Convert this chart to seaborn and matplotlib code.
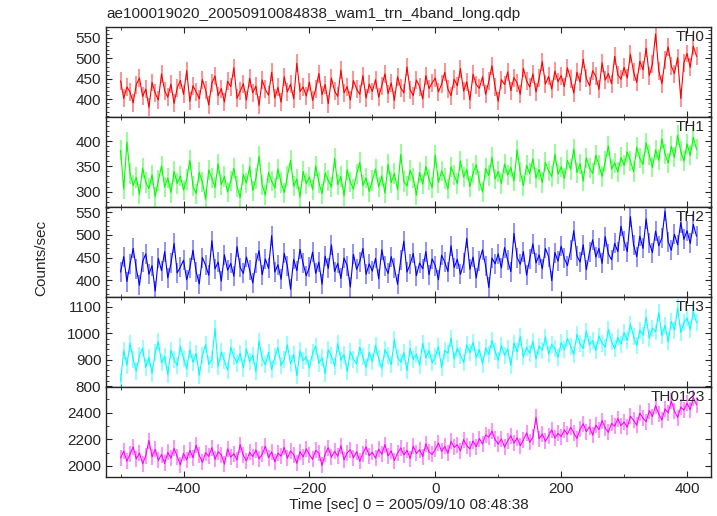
import numpy as np
import pandas as pd
import matplotlib
matplotlib.use("Agg")
import matplotlib.pyplot as plt
import seaborn as sns
from matplotlib.ticker import MultipleLocator

# time bins (sec from 2005/09/10 08:48:38), 5 s binning
t_start = -500
t_step = 5

th0 = [445, 402, 430, 418, 391, 436, 452, 407, 425, 380, 441, 415, 398, 462, 421, 405, 437, 390, 428, 446,
       412, 470, 395, 433, 418, 401, 448, 423, 386, 439, 457, 409, 426, 393, 444, 431, 477, 402, 420, 438,
       398, 451, 416, 432, 385, 447, 424, 410, 466, 403, 429, 393, 455, 418, 437, 401, 488, 419, 430, 408,
       442, 397, 425, 463, 411, 436, 389, 452, 420, 407, 471, 416, 431, 398, 446, 425, 412, 458, 403, 437,
       419, 448, 405, 433, 462, 414, 440, 397, 455, 428, 416, 479, 423, 409, 447, 431, 401, 458, 426, 440,
       452, 418, 437, 466, 425, 409, 449, 433, 475, 420, 443, 398, 461, 436, 427, 455, 412, 444, 482, 430,
       395, 448, 436, 467, 421, 453, 440, 412, 476, 445, 430, 462, 418, 451, 492, 437, 456, 425, 469, 443,
       458, 431, 477, 449, 415, 466, 442, 498, 451, 433, 470, 456, 424, 489, 447, 463, 438, 505, 460, 449,
       478, 452, 510, 467, 441, 493, 472, 525, 458, 486, 560, 470, 438, 495, 528, 481, 463, 502, 402, 489,
       512, 478, 530, 505]

th1 = [382, 305, 398, 336, 312, 328, 295, 347, 318, 306, 333, 290, 322, 351, 309, 327, 298, 340, 316, 331,
       303, 324, 362, 311, 296, 338, 319, 285, 343, 327, 308, 355, 314, 330, 299, 321, 346, 310, 288, 334,
       317, 349, 302, 326, 370, 313, 293, 338, 321, 307, 345, 318, 298, 331, 362, 311, 325, 289, 340, 316,
       329, 304, 351, 318, 296, 337, 322, 309, 366, 314, 330, 292, 343, 319, 305, 335, 358, 312, 327, 300,
       322, 345, 309, 331, 297, 354, 318, 336, 304, 374, 320, 311, 342, 327, 293, 338, 315, 350, 324, 308,
       372, 318, 341, 326, 305, 349, 333, 316, 361, 329, 344, 310, 337, 353, 321, 299, 346, 332, 368, 325,
       340, 316, 355, 333, 348, 321, 383, 339, 312, 352, 336, 365, 327, 344, 318, 358, 341, 330, 374, 335,
       349, 326, 362, 344, 385, 338, 355, 321, 367, 347, 336, 372, 353, 330, 360, 391, 345, 357, 339, 368,
       352, 379, 361, 340, 388, 366, 354, 397, 372, 348, 383, 362, 405, 375, 357, 390, 368, 412, 380, 361,
       395, 372, 408, 384]

th2 = [418, 452, 397, 436, 470, 425, 389, 441, 458, 413, 432, 376, 448, 421, 463, 405, 437, 481, 416, 429,
       444, 401, 427, 466, 419, 392, 450, 433, 411, 487, 425, 440, 398, 456, 422, 437, 409, 474, 428, 415,
       451, 423, 394, 438, 465, 412, 447, 426, 498, 418, 434, 402, 459, 431, 380, 446, 421, 468, 437, 410,
       429, 462, 415, 440, 391, 453, 426, 478, 419, 437, 404, 449, 432, 385, 457, 424, 441, 470, 413, 436,
       420, 448, 403, 467, 431, 415, 452, 427, 391, 444, 486, 418, 435, 459, 410, 438, 425, 463, 412, 447,
       432, 401, 455, 440, 419, 476, 428, 446, 413, 437, 492, 424, 451, 405, 443, 467, 431, 384, 449, 436,
       458, 427, 472, 444, 419, 503, 450, 435, 463, 411, 447, 480, 438, 456, 425, 470, 452, 399, 461, 442,
       475, 448, 432, 466, 509, 454, 440, 478, 423, 462, 489, 451, 470, 437, 496, 458, 445, 481, 463, 519,
       486, 463, 540, 478, 452, 497, 470, 535, 482, 461, 508, 476, 493, 552, 485, 466, 501, 478, 527, 490,
       509, 481, 523, 497]

th3 = [820, 935, 880, 962, 901, 857, 918, 944, 872, 909, 850, 927, 968, 889, 913, 845, 936, 902, 878, 951,
       905, 866, 938, 891, 924, 842, 915, 958, 883, 901, 1018, 874, 930, 897, 861, 947, 912, 888, 925, 869,
       941, 893, 918, 855, 970, 904, 882, 929, 863, 911, 946, 878, 902, 957, 885, 920, 840, 934, 897, 912,
       869, 926, 951, 887, 908, 849, 938, 915, 876, 962, 899, 920, 856, 931, 903, 884, 947, 911, 872, 928,
       893, 955, 904, 868, 939, 915, 882, 976, 910, 891, 927, 859, 944, 902, 921, 880, 963, 908, 935, 889,
       912, 949, 871, 936, 925, 982, 903, 944, 918, 890, 957, 927, 966, 909, 938, 884, 945, 921, 973, 932,
       898, 955, 917, 941, 879, 963, 930, 988, 911, 947, 925, 970, 903, 952, 937, 986, 922, 958, 941, 910,
       965, 938, 981, 952, 921, 996, 960, 943, 1008, 957, 972, 935, 990, 962, 948, 1015, 968, 942, 985, 959,
       1002, 973, 1035, 988, 954, 1012, 993, 1061, 982, 1020, 1005, 1078, 991, 1030, 968, 1045, 1012, 1096, 1003, 1040,
       1058, 1015, 1082, 1040]

th0123 = [2060, 2110, 2035, 2088, 2142, 2052, 2097, 2015, 2076, 2190, 2068, 2123, 2041, 2085, 2018, 2102, 2057, 2131, 2070, 2008,
          2093, 2044, 2117, 2062, 2154, 2080, 2026, 2099, 2071, 2136, 2048, 2105, 2083, 2012, 2127, 2066, 2091, 2045, 2159, 2078,
          2037, 2101, 2069, 2120, 2052, 2087, 2148, 2061, 2104, 2030, 2095, 2073, 2139, 2056, 2112, 2084, 2019, 2106, 2067, 2128,
          2083, 2049, 2116, 2095, 2003, 2088, 2137, 2064, 2110, 2072, 2151, 2045, 2098, 2120, 2061, 2107, 2035, 2092, 2143, 2076,
          2101, 2058, 2125, 2087, 2160, 2074, 2112, 2039, 2096, 2134, 2082, 2117, 2055, 2148, 2093, 2121, 2070, 2165, 2104, 2086,
          2123, 2171, 2108, 2146, 2095, 2183, 2139, 2158, 2112, 2197, 2151, 2127, 2186, 2143, 2205, 2164, 2232, 2215, 2260, 2198,
          2163, 2202, 2140, 2187, 2226, 2171, 2210, 2152, 2195, 2248, 2178, 2215, 2363, 2203, 2239, 2184, 2226, 2270, 2208, 2244,
          2219, 2268, 2236, 2290, 2248, 2205, 2274, 2316, 2257, 2293, 2230, 2305, 2272, 2339, 2284, 2251, 2318, 2296, 2355, 2302,
          2328, 2290, 2372, 2341, 2305, 2396, 2358, 2331, 2415, 2370, 2452, 2389, 2343, 2427, 2398, 2485, 2412, 2362, 2440, 2418,
          2470, 2421, 2512, 2458]

# typical 1-sigma error per band (counts/sec)
errs = [22, 20, 22, 32, 60]

bands = ["TH0", "TH1", "TH2", "TH3", "TH0123"]
series = [th0, th1, th2, th3, th0123]
colors = ["#ff0000", "#00ff00", "#0000ff", "#00ffff", "#ff00ff"]
ylims = [(356, 576), (269, 448), (363, 561), (798, 1137), (1918, 2592)]
ymajor = [50, 50, 50, 100, 200]
yminor = [10, 10, 10, 20, 100]

sns.set_style("ticks")
plt.rcParams["font.family"] = ["Liberation Sans", "DejaVu Sans"]
plt.rcParams["font.size"] = 11

fig, axes = plt.subplots(5, 1, sharex=True, figsize=(7.17, 5.16), dpi=100)
fig.subplots_adjust(left=0.148, right=0.9916, top=0.947, bottom=0.076, hspace=0)

for ax, name, vals, c, err, yl, mj, mn in zip(axes, bands, series, colors, errs, ylims, ymajor, yminor):
    df = pd.DataFrame({"time": t_start + t_step * np.arange(len(vals)), "rate": vals})
    ax.errorbar(df["time"], df["rate"], yerr=err, fmt="none", ecolor=c, elinewidth=1.2, alpha=0.5)
    sns.lineplot(data=df, x="time", y="rate", ax=ax, color=c, lw=0.8, estimator=None)
    ax.set_ylim(*yl)
    ax.set_xlim(-523, 438)
    ax.yaxis.set_major_locator(MultipleLocator(mj))
    ax.yaxis.set_minor_locator(MultipleLocator(mn))
    ax.xaxis.set_major_locator(MultipleLocator(200))
    ax.xaxis.set_minor_locator(MultipleLocator(100))
    ax.tick_params(which="both", direction="in", top=True, right=True, labelsize=11)
    ax.tick_params(which="major", length=4, width=0.8)
    ax.tick_params(which="minor", length=2.5, width=0.6)
    ax.set_ylabel("")
    ax.set_xlabel("")
    for s in ax.spines.values():
        s.set_linewidth(1.0)
    ax.text(0.99, 0.89, name, transform=ax.transAxes, ha="right", va="center", fontsize=11)

axes[-1].set_xlabel("Time [sec] 0 = 2005/09/10 08:48:38", fontsize=11, labelpad=2)
fig.text(0.058, 0.5, "Counts/sec", rotation=90, ha="center", va="center", fontsize=11)
fig.text(0.149, 0.973, "ae100019020_20050910084838_wam1_trn_4band_long.qdp", ha="left", va="center", fontsize=11)

fig.savefig("out.png", dpi=100)
